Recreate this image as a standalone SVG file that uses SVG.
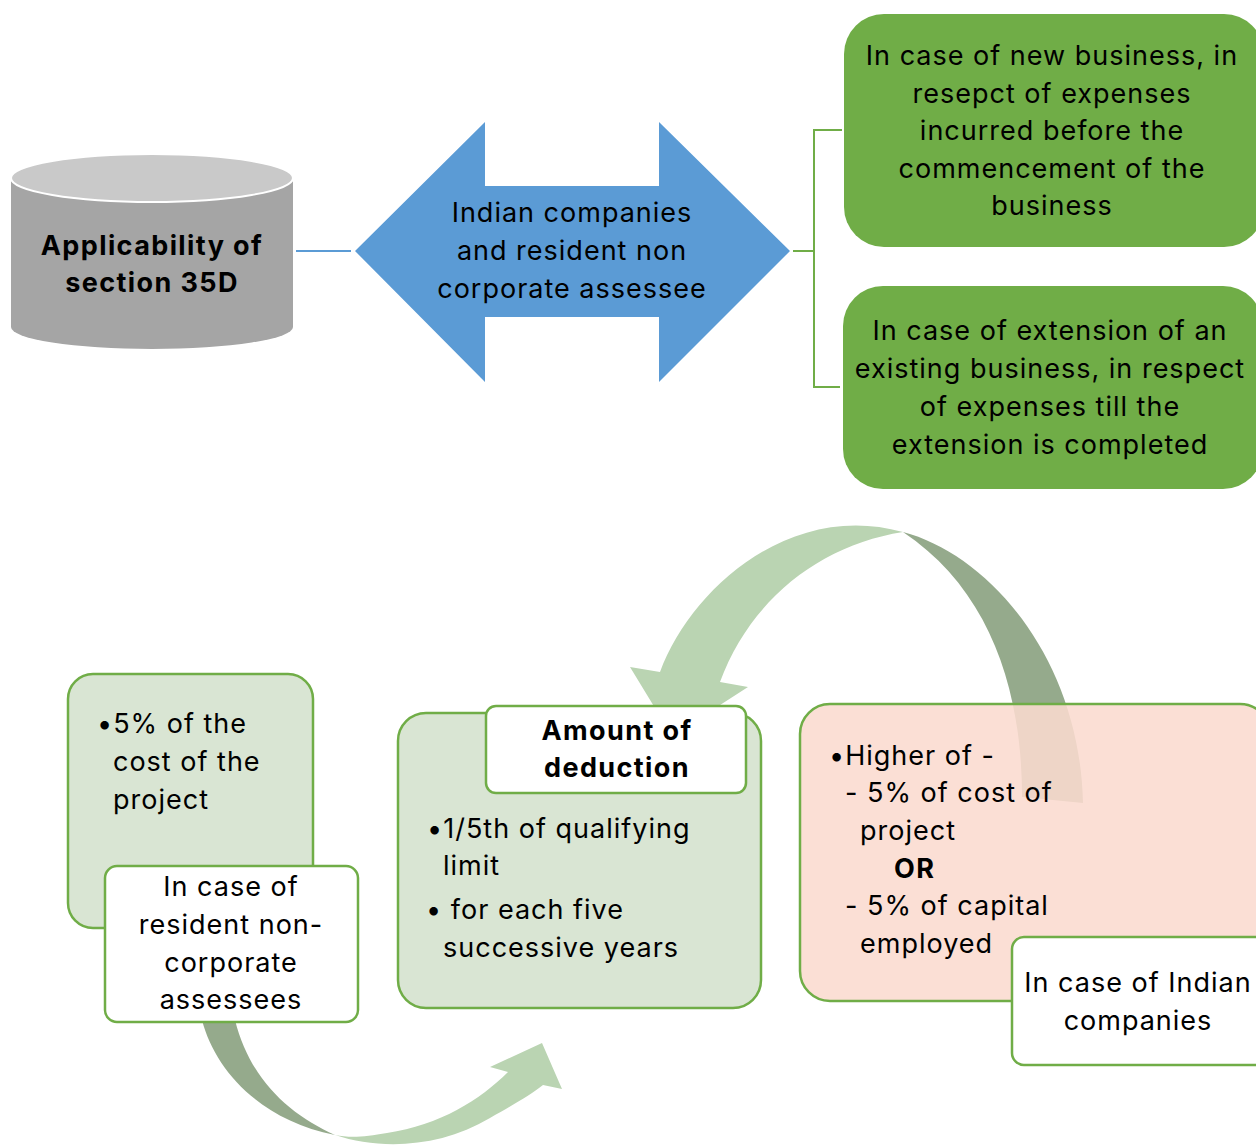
<svg xmlns="http://www.w3.org/2000/svg" width="1256" height="1148" viewBox="0 0 1256 1148">
<style>
.t{font-family:Inter,"Open Sans","Liberation Sans",sans-serif;font-size:27px;letter-spacing:1px;fill:#000}
.b{font-weight:bold;letter-spacing:1.4px}
.c{text-anchor:middle}
.gbox{fill:#70ad47}
.sage{fill:#d9e5d3;stroke:#70ad47;stroke-width:2.5}
.white{fill:#fff;stroke:#70ad47;stroke-width:2.5}
.pink{fill:#fadbcf;fill-opacity:0.88;stroke:#70ad47;stroke-width:2.5}
.light{fill:#bad4b2}
.dark{fill:#95aa8c}
.lnb{fill:none;stroke:#5b9bd5;stroke-width:2}
.lng{fill:none;stroke:#70ad47;stroke-width:2}
</style>
<rect width="1256" height="1148" fill="#fff"/>
<g id="connectors">
  <line class="lnb" x1="296" y1="251" x2="351" y2="251"/>
  <path class="lng" d="M793,251 H814 M842,130 H814 V387 H840"/>
  <path class="dark" d="M903,532 C990,555 1080,660 1083,803 L1022,797 C1022,690 990,590 903,532 Z"/>
  <path class="light" d="M903,532 C790,500 690,590 660,672 L630,667 L672,736 L748,687 L720,682 C750,600 820,545 903,532 Z"/>
  <path class="dark" d="M202,1020 C215,1070 260,1120 335,1135 C290,1115 250,1080 235,1020 Z"/>
  <path class="light" d="M335,1135 C380,1150 440,1148 490,1118 C515,1104 530,1095 543,1085 L562,1089 L542,1043 L490,1067 L508,1072 C480,1100 440,1125 387,1133 C365,1137 350,1138 335,1135 Z"/>
</g>
<g id="node-cylinder">
  <path d="M11,178 V327 A141,22 0 0 0 293,327 V178 Z" fill="#a5a5a5"/>
  <ellipse cx="152" cy="178" rx="141" ry="24" fill="#c9c9c9" stroke="#fff" stroke-width="2"/>
  <text class="t b c" x="152" y="255">Applicability of</text>
  <text class="t b c" x="152" y="292">section 35D</text>
</g>
<g id="node-double-arrow">
  <polygon points="355,251 485,122 485,186 659,186 659,122 790,251 659,382 659,317 485,317 485,382" fill="#5b9bd5"/>
  <text class="t c" x="572" y="222">Indian companies</text>
  <text class="t c" x="572" y="260">and resident non</text>
  <text class="t c" x="572" y="298">corporate assessee</text>
</g>
<g id="node-new-business">
  <rect class="gbox" x="844" y="14" width="420" height="233" rx="40"/>
  <text class="t c" x="1052" y="65">In case of new business, in</text>
  <text class="t c" x="1052" y="102.5">resepct of expenses</text>
  <text class="t c" x="1052" y="140">incurred before the</text>
  <text class="t c" x="1052" y="177.5">commencement of the</text>
  <text class="t c" x="1052" y="215">business</text>
</g>
<g id="node-extension">
  <rect class="gbox" x="843" y="286" width="420" height="203" rx="40"/>
  <text class="t c" x="1050" y="340">In case of extension of an</text>
  <text class="t c" x="1050" y="378">existing business, in respect</text>
  <text class="t c" x="1050" y="416">of expenses till the</text>
  <text class="t c" x="1050" y="454">extension is completed</text>
</g>
<g id="node-five-percent">
  <rect class="sage" x="68" y="674" width="245" height="254" rx="25"/>
  <text class="t" x="97" y="733">•5% of the</text>
  <text class="t" x="113" y="771">cost of the</text>
  <text class="t" x="113" y="809">project</text>
</g>
<g id="node-resident">
  <rect class="white" x="105" y="866" width="253" height="156" rx="12"/>
  <text class="t c" x="231" y="896">In case of</text>
  <text class="t c" x="231" y="934">resident non-</text>
  <text class="t c" x="231" y="972">corporate</text>
  <text class="t c" x="231" y="1009">assessees</text>
</g>
<g id="node-amount">
  <rect class="sage" x="398" y="713" width="363" height="295" rx="28"/>
  <rect class="white" x="486" y="706" width="260" height="87" rx="10"/>
  <text class="t b c" x="617" y="740">Amount of</text>
  <text class="t b c" x="617" y="777">deduction</text>
  <text class="t" x="427" y="838">•1/5th of qualifying</text>
  <text class="t" x="443" y="875">limit</text>
  <text class="t" x="426" y="919">• for each five</text>
  <text class="t" x="443" y="957">successive years</text>
</g>
<g id="node-higher">
  <rect class="pink" x="800" y="704" width="470" height="297" rx="30"/>
  <text class="t" x="829" y="765">•Higher of -</text>
  <text class="t" x="845" y="802">- 5% of cost of</text>
  <text class="t" x="860" y="840">project</text>
  <text class="t b" x="894" y="878">OR</text>
  <text class="t" x="845" y="915">- 5% of capital</text>
  <text class="t" x="860" y="953">employed</text>
</g>
<g id="node-indian">
  <rect class="white" x="1012" y="937" width="260" height="128" rx="12"/>
  <text class="t c" x="1138" y="992">In case of Indian</text>
  <text class="t c" x="1138" y="1030">companies</text>
</g>
</svg>
